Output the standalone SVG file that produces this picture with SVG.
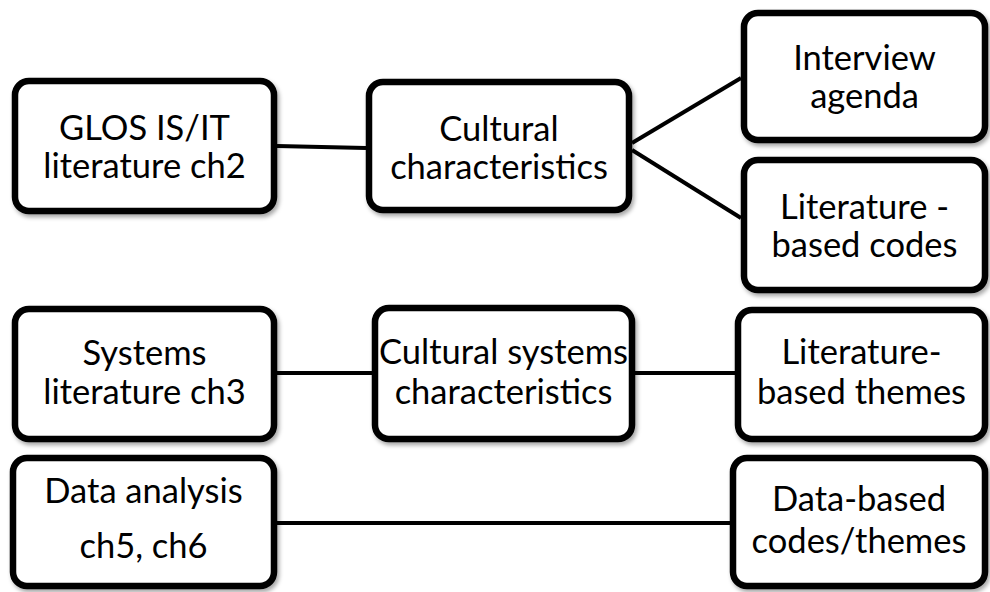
<svg xmlns="http://www.w3.org/2000/svg" width="990" height="592" viewBox="0 0 990 592">
  <defs>
    <filter id="shadow" x="-10%" y="-10%" width="125%" height="130%">
      <feDropShadow dx="2" dy="3" stdDeviation="2" flood-color="#000" flood-opacity="0.35"/>
    </filter>
  </defs>
  <style>
    .box { fill: #fff; stroke: #000; stroke-width: 6.5; filter: url(#shadow); }
    .lbl { font-family: Lato, "Liberation Sans", sans-serif; font-size: 34.5px; fill: #000; text-anchor: middle; }
    .link { stroke: #000; stroke-width: 4; fill: none; }
  </style>
  <rect width="990" height="592" fill="#fff"/>

  <g id="connectors">
    <line class="link" x1="277" y1="146" x2="366" y2="148"/>
    <line class="link" x1="632" y1="143" x2="741" y2="78"/>
    <line class="link" x1="632" y1="150" x2="741" y2="218"/>
    <line class="link" x1="277" y1="373" x2="372" y2="373"/>
    <line class="link" x1="635" y1="373" x2="735" y2="373"/>
    <line class="link" x1="277" y1="523" x2="730" y2="523"/>
  </g>

  <g id="glos">
    <rect class="box" x="15" y="81" width="259" height="130" rx="14"/>
    <text class="lbl" x="144.5" y="140">GLOS IS/IT</text>
    <text class="lbl" x="144.5" y="178">literature ch2</text>
  </g>

  <g id="cultural">
    <rect class="box" x="369" y="82" width="260" height="128" rx="14"/>
    <text class="lbl" x="499" y="141">Cultural</text>
    <text class="lbl" x="499" y="179">characteristics</text>
  </g>

  <g id="interview">
    <rect class="box" x="744" y="13" width="241" height="127" rx="14"/>
    <text class="lbl" x="864.5" y="70">Interview</text>
    <text class="lbl" x="864.5" y="108">agenda</text>
  </g>

  <g id="lit-codes">
    <rect class="box" x="744" y="160" width="241" height="130" rx="14"/>
    <text class="lbl" x="864.5" y="219">Literature -</text>
    <text class="lbl" x="864.5" y="257">based codes</text>
  </g>

  <g id="systems">
    <rect class="box" x="15" y="309" width="259" height="130" rx="14"/>
    <text class="lbl" x="144.5" y="365">Systems</text>
    <text class="lbl" x="144.5" y="404">literature ch3</text>
  </g>

  <g id="cultural-systems">
    <rect class="box" x="375" y="308" width="257" height="131" rx="14"/>
    <text class="lbl" x="503.5" y="364">Cultural systems</text>
    <text class="lbl" x="503.5" y="404">characteristics</text>
  </g>

  <g id="lit-themes">
    <rect class="box" x="738" y="310" width="247" height="129" rx="14"/>
    <text class="lbl" x="861.5" y="364">Literature-</text>
    <text class="lbl" x="861.5" y="404">based themes</text>
  </g>

  <g id="data-analysis">
    <rect class="box" x="13" y="458" width="261" height="128" rx="14"/>
    <text class="lbl" x="143.5" y="503">Data analysis</text>
    <text class="lbl" x="143.5" y="558">ch5, ch6</text>
  </g>

  <g id="data-codes">
    <rect class="box" x="733" y="458" width="252" height="128" rx="14"/>
    <text class="lbl" x="859" y="511">Data-based</text>
    <text class="lbl" x="859" y="553">codes/themes</text>
  </g>
</svg>
